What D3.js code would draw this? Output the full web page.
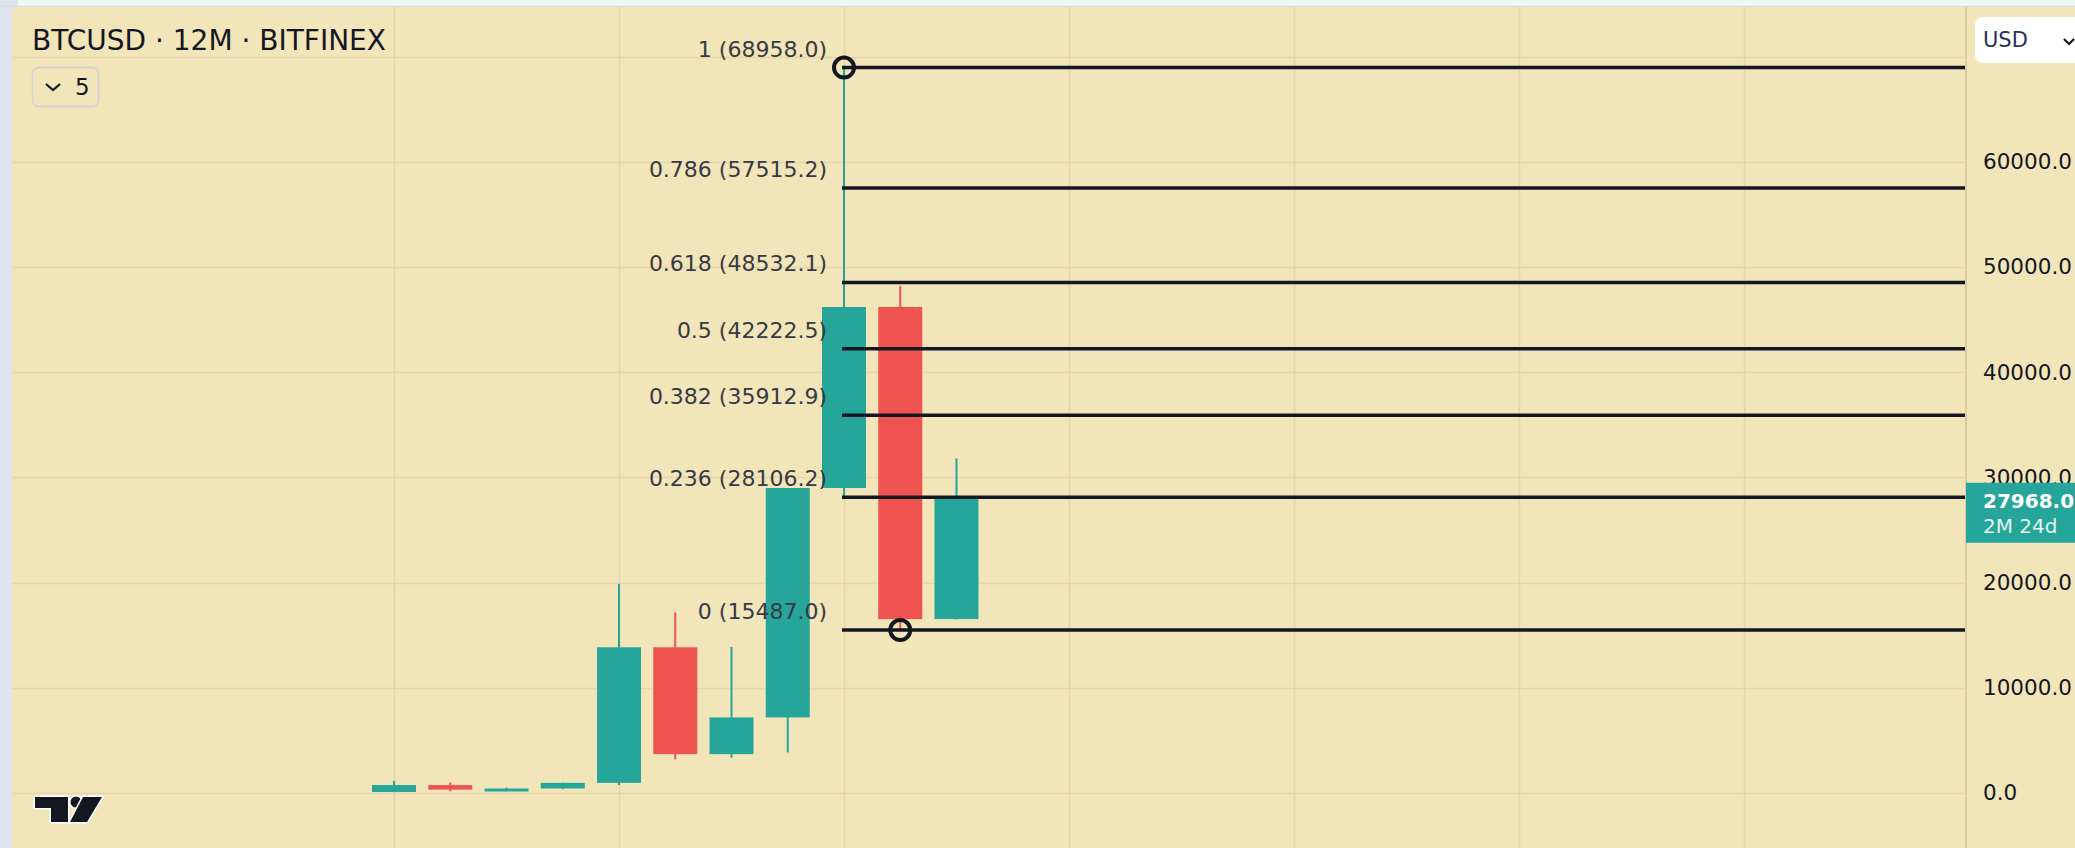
<!DOCTYPE html>
<html>
<head>
<meta charset="utf-8">
<script src="https://cdn.jsdelivr.net/npm/d3@7"></script>
<style>
	body { margin:0; background:#eef8f5; overflow:hidden; }
	svg { display:block; font-family:"DejaVu Sans", sans-serif; }
</style>
</head>
<body>
<svg id="chart"></svg>
<script>
let _width = 2075
let _height = 848

// yearly candles, BTCUSD 12M
let years  = [2013, 2014, 2015, 2016, 2017, 2018, 2019, 2020, 2021, 2022, 2023]
let opens  = [100, 754, 320, 430, 963, 13850, 3693, 7180, 28990, 46200, 16530]
let highs  = [1175, 1000, 500, 980, 19891, 17170, 13880, 29000, 68958, 48190, 31800]
let lows   = [65, 160, 160, 365, 752, 3200, 3350, 3850, 28200, 15487, 16490]
let closes = [754, 320, 430, 963, 13850, 3693, 7180, 28990, 46200, 16530, 27968]

// fib retracement
let fibLevels = ['1', '0.786', '0.618', '0.5', '0.382', '0.236', '0']
let fibPrices = [68958.0, 57515.2, 48532.1, 42222.5, 35912.9, 28106.2, 15487.0]

let priceTicks = [0, 10000, 20000, 30000, 40000, 50000, 60000]
let gridPrices = [0, 10000, 20000, 30000, 40000, 50000, 60000, 70000]
let gridYears = [2013, 2017, 2021, 2025, 2029, 2033, 2037]

let lastPrice = 27968.0
let countdown = '2M 24d'

const up = '#26a69a'
const down = '#ef5350'
const paneBg = '#f2e5b9'
const gridCol = '#e6d7ab'
const ink = '#131722'

const pane = {left:12, top:7, right:1965, bottom:_height}

const x = d3.scaleLinear()
	.domain([2013, 2023])
	.range([394, 956.5])

const y = d3.scaleLinear()
	.domain([0, 70000])
	.range([793, 56.6])

const svg = d3.select('#chart')
	.attr('width', _width)
	.attr('height', _height)

// page frame
svg.append('rect')
	.attr('width', _width).attr('height', _height)
	.attr('fill', '#eef8f5')
svg.append('rect')
	.attr('x', 0).attr('y', 0)
	.attr('width', pane.left + 6).attr('height', _height)
	.attr('fill', '#dfe4ef')
svg.append('line')
	.attr('x1', 0).attr('x2', _width)
	.attr('y1', pane.top - 0.5).attr('y2', pane.top - 0.5)
	.attr('stroke', '#dcdcdc').attr('stroke-width', 1.5)
svg.append('path')
	.attr('d', `M${pane.left},${_height} V${pane.top + 8} Q${pane.left},${pane.top} ${pane.left + 8},${pane.top} H${_width} V${_height} Z`)
	.attr('fill', paneBg)

// grid
const grid = svg.append('g')
grid.selectAll('.hgrid')
	.data(gridPrices)
	.enter()
	.append('line')
	.classed('hgrid', true)
	.attr('x1', pane.left).attr('x2', pane.right)
	.attr('y1', d => Math.round(y(d)) + 0.5)
	.attr('y2', d => Math.round(y(d)) + 0.5)
	.attr('stroke', gridCol).attr('stroke-width', 1.5)
grid.selectAll('.vgrid')
	.data(gridYears)
	.enter()
	.append('line')
	.classed('vgrid', true)
	.attr('x1', d => Math.round(x(d)) + 0.5)
	.attr('x2', d => Math.round(x(d)) + 0.5)
	.attr('y1', pane.top).attr('y2', pane.bottom)
	.attr('stroke', gridCol).attr('stroke-width', 1.5)

// price axis border
svg.append('line')
	.attr('x1', pane.right + 1).attr('x2', pane.right + 1)
	.attr('y1', pane.top).attr('y2', _height)
	.attr('stroke', '#dccb9f').attr('stroke-width', 2)

// candles
const candles = years.map((yr, i) => ({yr, o:opens[i], h:highs[i], l:lows[i], c:closes[i]}))
const bodyW = 44

const cg = svg.selectAll('.candle')
	.data(candles)
	.enter()
	.append('g')
	.classed('candle', true)

cg.append('line')
	.attr('x1', d => x(d.yr)).attr('x2', d => x(d.yr))
	.attr('y1', d => y(d.h)).attr('y2', d => y(d.l))
	.attr('stroke', d => d.c >= d.o ? up : down)
	.attr('stroke-width', 2)

cg.append('rect')
	.attr('x', d => x(d.yr) - bodyW / 2)
	.attr('width', bodyW)
	.attr('y', d => y(Math.max(d.o, d.c)))
	.attr('height', d => Math.max(3, Math.abs(y(d.o) - y(d.c))))
	.attr('fill', d => d.c >= d.o ? up : down)

// fib lines
const fib = fibLevels.map((lv, i) => ({lv, p:fibPrices[i]}))
const fibX0 = 842

const fg = svg.selectAll('.fib')
	.data(fib)
	.enter()
	.append('g')
	.classed('fib', true)

fg.append('line')
	.attr('x1', fibX0).attr('x2', pane.right)
	.attr('y1', d => y(d.p)).attr('y2', d => y(d.p))
	.attr('stroke', ink).attr('stroke-width', 3.5)

fg.append('text')
	.attr('x', 827)
	.attr('y', d => y(d.p) - 11)
	.attr('text-anchor', 'end')
	.attr('font-size', 22)
	.attr('fill', '#363a45')
	.text(d => `${d.lv} (${d.p.toFixed(1)})`)

// anchor points of the fib tool
svg.selectAll('.anchor')
	.data([[2021, fibPrices[0]], [2022, fibPrices[6]]])
	.enter()
	.append('circle')
	.classed('anchor', true)
	.attr('cx', d => x(d[0]))
	.attr('cy', d => y(d[1]))
	.attr('r', 10)
	.attr('fill', 'none')
	.attr('stroke', ink)
	.attr('stroke-width', 4)

// price axis labels
const axis = d3.axisRight(y)
	.tickValues(priceTicks)
	.tickFormat(d => d.toFixed(1))
	.tickSize(0)
	.tickPadding(18)

const ag = svg.append('g')
	.attr('transform', `translate(${pane.right},0)`)
	.call(axis)
ag.select('.domain').remove()
ag.selectAll('text')
	.attr('font-size', 21.5)
	.attr('font-family', '"DejaVu Sans", sans-serif')
	.attr('fill', ink)

// last price tag
const py = y(lastPrice)
svg.append('rect')
	.attr('x', pane.right + 1).attr('y', py - 16)
	.attr('width', _width - pane.right).attr('height', 60)
	.attr('fill', up)
svg.append('text')
	.attr('x', 1983).attr('y', py + 9.5)
	.attr('font-size', 20).attr('font-weight', 'bold')
	.attr('fill', '#fff')
	.text(lastPrice.toFixed(1))
svg.append('text')
	.attr('x', 1983).attr('y', py + 34.5)
	.attr('font-size', 20)
	.attr('fill', '#e3f4f1')
	.text(countdown)

// currency button
svg.append('rect')
	.attr('x', 1975).attr('y', 17)
	.attr('width', 130).attr('height', 46)
	.attr('rx', 8)
	.attr('fill', '#fff')
svg.append('text')
	.attr('x', 1983).attr('y', 47)
	.attr('font-size', 21)
	.attr('fill', '#2a2e5a')
	.text('USD')
svg.append('path')
	.attr('d', 'M2064,39 L2069,44 L2074,39')
	.attr('fill', 'none').attr('stroke', ink).attr('stroke-width', 2.2)

// legend
svg.append('text')
	.attr('x', 32).attr('y', 50)
	.attr('font-size', 28)
	.attr('fill', ink)
	.text('BTCUSD · 12M · BITFINEX')
svg.append('rect')
	.attr('x', 32.5).attr('y', 67.5)
	.attr('width', 66).attr('height', 39)
	.attr('rx', 6)
	.attr('fill', 'none')
	.attr('stroke', '#cdd2dc').attr('stroke-width', 1.5)
svg.append('path')
	.attr('d', 'M46,84 L53,90 L60,84')
	.attr('fill', 'none').attr('stroke', ink).attr('stroke-width', 2.2)
svg.append('text')
	.attr('x', 75).attr('y', 95)
	.attr('font-size', 23)
	.attr('fill', ink)
	.text('5')

// tv logo
const logo = svg.append('g')
	.attr('fill', ink)
	.attr('stroke', '#fff')
	.attr('stroke-width', 3)
	.attr('paint-order', 'stroke')
	.attr('stroke-linejoin', 'round')
logo.append('path').attr('d', 'M35,797 H68 V822 H51 V808 H35 Z')
logo.append('circle').attr('cx', 76).attr('cy', 802).attr('r', 5.5)
logo.append('path').attr('d', 'M83,797 H102 L87,822 H70 Z')
</script>
</body>
</html>
